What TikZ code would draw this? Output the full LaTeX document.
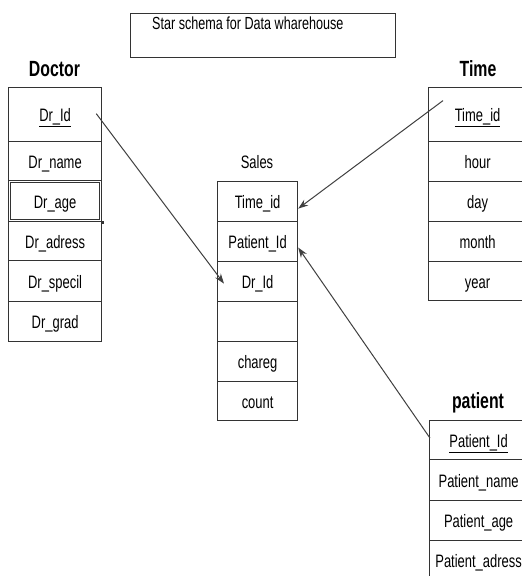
\documentclass[tikz,border=0pt]{standalone}
\usepackage{fontspec}
\setmainfont{Liberation Sans}[FakeStretch=0.72]
\usetikzlibrary{arrows.meta,calc}
\begin{document}
\begin{tikzpicture}[x=1pt,y=-1pt,
  row/.style={draw=black!80, line width=1.2pt, inner sep=0pt, anchor=north west,
    text height=14pt, text depth=0pt, font=\fontsize{18}{20}\selectfont},
  drrow/.style={row, minimum width=93pt},
  slrow/.style={row, minimum width=80pt},
  tmrow/.style={row, minimum width=98pt},
  ttl/.style={font=\fontsize{22}{24}\selectfont\bfseries, anchor=base, inner sep=0pt},
  lbl/.style={font=\fontsize{18}{20}\selectfont, anchor=base, inner sep=0pt},
  fk/.style={draw=black!75, line width=1pt, -{Stealth[length=10pt,width=7pt]}},
]
\useasboundingbox[fill=white] (0,0) rectangle (522,576);
\clip (0,0) rectangle (522,576);

% title box
\node[draw=black!80, line width=1.2pt, minimum width=265pt, minimum height=44pt,
  anchor=north west, inner sep=0pt] (titlebox) at (130,13) {};
\node[anchor=base west, inner sep=0pt, font=\fontsize{17.5}{19}\selectfont] (title) at (152,29)
  {Star schema for Data wharehouse};

% Doctor
\node[ttl] (doctorlbl) at (54.5,76) {Doctor};
\node[drrow, minimum height=54pt] (dr1) at (8,87) {\underline{Dr\_Id}};
\node[drrow, minimum height=39pt] (dr2) at (8,141) {Dr\_name};
\node[drrow, minimum height=41pt] (dr3) at (8,180) {Dr\_age};
\draw[black!80, line width=0.9pt] ($(dr3.north west)+(2.5,2.5)$) rectangle ($(dr3.south east)+(-2.5,-2.5)$);
\fill[black!80] ($(dr3.south east)+(-1.5,-1.5)$) rectangle ($(dr3.south east)+(1.5,1.5)$);
\node[drrow, minimum height=39pt] (dr4) at (8,221) {Dr\_adress};
\node[drrow, minimum height=41pt] (dr5) at (8,260) {Dr\_specil};
\node[drrow, minimum height=40pt] (dr6) at (8,301) {Dr\_grad};

% Sales
\node[lbl] (saleslbl) at (257,168) {Sales};
\node[slrow, minimum height=40pt] (s1) at (217,181) {Time\_id};
\node[slrow, minimum height=40pt] (s2) at (217,221) {Patient\_Id};
\node[slrow, minimum height=40pt] (s3) at (217,261) {Dr\_Id};
\node[slrow, minimum height=40pt] (s4) at (217,301) {};
\node[slrow, minimum height=40pt] (s5) at (217,341) {chareg};
\node[slrow, minimum height=39pt] (s6) at (217,381) {count};

% Time
\node[ttl] (timelbl) at (478,76) {Time};
\node[tmrow, minimum height=54pt] (t1) at (428,87) {\underline{Time\_id}};
\node[tmrow, minimum height=40pt] (t2) at (428,141) {hour};
\node[tmrow, minimum height=40pt] (t3) at (428,181) {day};
\node[tmrow, minimum height=40pt] (t4) at (428,221) {month};
\node[tmrow, minimum height=39pt] (t5) at (428,261) {year};

% patient
\node[ttl] (patientlbl) at (478,408) {patient};
\node[tmrow, minimum height=39pt] (p1) at (429,420) {\underline{Patient\_Id}};
\node[tmrow, minimum height=41pt] (p2) at (429,459) {Patient\_name};
\node[tmrow, minimum height=40pt] (p3) at (429,500) {Patient\_age};
\node[tmrow, minimum height=40pt] (p4) at (429,540) {Patient\_adress};

% connector ends
\coordinate (a1s) at ($(dr1.east)+(-6,-1)$);
\coordinate (a1e) at ($(s3.west)+(7,2)$);
\coordinate (a2s) at ($(t1.west)+(15,-14)$);
\coordinate (a2e) at ($(s1.east)+(0,7)$);
\coordinate (a3s) at ($(p1.west)+(1,-2)$);
\coordinate (a3e) at ($(s2.east)+(0,6)$);

\draw[fk] (a1s) -- (a1e);
\draw[fk] (a2s) -- (a2e);
\draw[fk] (a3s) -- (a3e);
\end{tikzpicture}
\end{document}
